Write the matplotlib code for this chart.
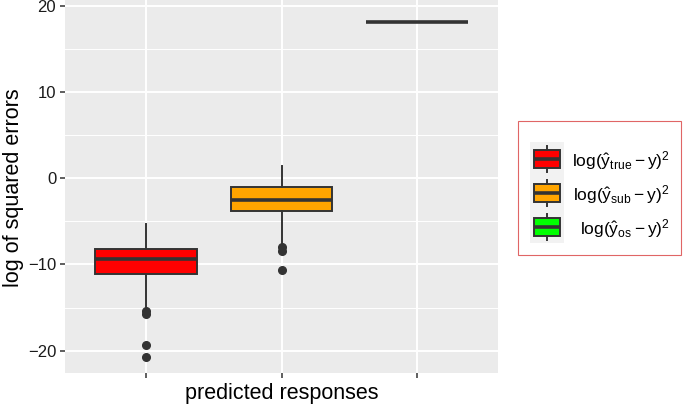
import matplotlib
matplotlib.use("Agg")
import matplotlib.pyplot as plt
from matplotlib.patches import Rectangle
from matplotlib.ticker import MultipleLocator

# box statistics
categories = ["true", "sub", "os"]
q1 = [-11.05, -3.8, 18.2]
medians = [-9.4, -2.55, 18.2]
q3 = [-8.25, -1.0, 18.2]
whisker_low = [-15.3, -7.6, 18.2]
whisker_high = [-5.35, 1.4, 18.2]
outliers = [[-15.4, -15.7, -19.3, -20.7], [-7.95, -8.45, -10.6], []]

colors = ["#FF0000", "#FFA500", "#00FF00"]
legend_labels = [
    r"$\log(\hat{y}_{\mathrm{true}} - y)^2$",
    r"$\log(\hat{y}_{\mathrm{sub}} - y)^2$",
    r"$\log(\hat{y}_{\mathrm{os}} - y)^2$",
]

DARK = "#333333"

plt.rcParams["font.family"] = ["Liberation Sans", "DejaVu Sans"]
plt.rcParams["mathtext.fontset"] = "custom"
plt.rcParams["mathtext.rm"] = "Liberation Sans"
plt.rcParams["mathtext.it"] = "Liberation Sans"
plt.rcParams["mathtext.bf"] = "Liberation Sans:bold"

W, H = 685, 404
fig = plt.figure(figsize=(W / 100, H / 100), dpi=100)

# main panel
ax = fig.add_axes([65 / W, 31 / H, 433 / W, 373 / H])
ax.set_facecolor("#EBEBEB")
ax.set_axisbelow(True)

stats = []
for i, c in enumerate(categories):
    stats.append(
        dict(
            label=c,
            q1=q1[i],
            med=medians[i],
            q3=q3[i],
            whislo=whisker_low[i],
            whishi=whisker_high[i],
            fliers=outliers[i],
        )
    )

positions = list(range(1, len(categories) + 1))
bp = ax.bxp(
    stats,
    positions=positions,
    widths=0.75,
    patch_artist=True,
    showcaps=False,
    boxprops=dict(edgecolor=DARK, linewidth=1.4),
    medianprops=dict(color=DARK, linewidth=2.6),
    whiskerprops=dict(color=DARK, linewidth=1.4),
    flierprops=dict(
        marker="o",
        markerfacecolor=DARK,
        markeredgecolor=DARK,
        markersize=5.5,
        linestyle="none",
    ),
)
for patch, col in zip(bp["boxes"], colors):
    patch.set_facecolor(col)

ax.set_xlim(0.4, 3.6)
ax.set_ylim(-22.6, 20.7)
ax.set_xticks(positions)
ax.set_xticklabels([""] * len(positions))
ax.set_yticks([-20, -10, 0, 10, 20])
ax.set_yticklabels(["\u221220", "\u221210", "0", "10", "20"])
ax.yaxis.set_minor_locator(MultipleLocator(5))

ax.grid(which="major", color="white", linewidth=1.4)
ax.grid(which="minor", axis="y", color="white", linewidth=0.7)

ax.tick_params(which="major", length=3.8, width=1.1, color=DARK,
               labelcolor="#1A1A1A", labelsize=12, pad=2.5)
ax.tick_params(which="minor", length=0)
for s in ax.spines.values():
    s.set_visible(False)

fig.text(281.5 / W, 1 - 393 / H, "predicted responses",
         ha="center", va="center", fontsize=15.5)
fig.text(14 / W, 1 - 188 / H, "log of squared errors",
         ha="center", va="center", rotation=90, fontsize=15.5)

# legend drawn in pixel space
lax = fig.add_axes([0, 0, 1, 1])
lax.set_xlim(0, W)
lax.set_ylim(H, 0)
lax.axis("off")

lax.add_patch(Rectangle((518.5, 121), 162.5, 134, facecolor="white",
                        edgecolor="#E06666", linewidth=0.8))
lax.add_patch(Rectangle((530, 142), 34, 101, facecolor="#F2F2F2",
                        edgecolor="none"))

for i, (col, lab) in enumerate(zip(colors, legend_labels)):
    cy = 159 + 34 * i
    lax.add_patch(Rectangle((534, cy - 9), 26, 18, facecolor=col,
                            edgecolor=DARK, linewidth=1.4))
    lax.plot([534, 560], [cy, cy], color=DARK, linewidth=2.6,
             solid_capstyle="butt")
    lax.plot([547, 547], [cy - 13, cy - 9], color=DARK, linewidth=1.4)
    lax.plot([547, 547], [cy + 9, cy + 13], color=DARK, linewidth=1.4)
    lax.text(670, cy + 2, lab, ha="right", va="center", fontsize=12.5)

fig.savefig("out.png", dpi=100)
